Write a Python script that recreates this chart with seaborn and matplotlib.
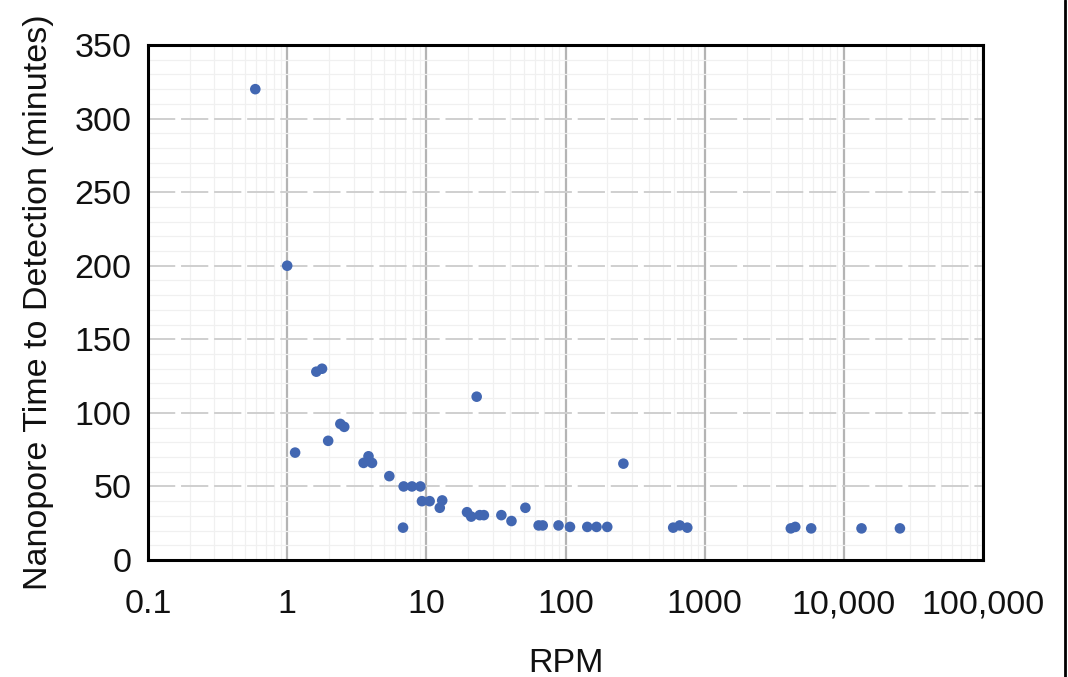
import numpy as np
import pandas as pd
import seaborn as sns
import matplotlib.pyplot as plt
from matplotlib.ticker import FixedLocator, FixedFormatter, MultipleLocator, LogLocator, NullFormatter
from matplotlib.lines import Line2D

# RPM vs time to detection
rpm = [0.59, 1.0, 1.14, 1.62, 1.78, 1.97, 2.41, 2.57, 3.54, 3.84, 4.07,
       5.42, 6.87, 7.88, 9.06, 6.8, 9.3, 10.56, 12.49, 13.0, 23.0,
       19.6, 21.0, 24.2, 25.9, 34.6, 40.9, 51.5, 64.1, 68.6, 89.1,
       107.7, 143.4, 167.1, 199.5, 260.6, 594, 662, 750,
       4160, 4477, 5826, 13400, 25300]
minutes = [320, 200, 73, 128, 130, 81, 92.5, 90.5, 66, 70.5, 66,
           57, 50, 50, 50, 22, 40, 40, 35.5, 40.5, 111,
           32.5, 29.5, 30.5, 30.5, 30.5, 26.5, 35.5, 23.5, 23.5, 23.5,
           22.5, 22.5, 22.5, 22.5, 65.5, 22, 23.5, 22,
           21.5, 22.5, 21.5, 21.5, 21.5]

x_ticks = [0.1, 1, 10, 100, 1000, 10000, 100000]
x_ticklabels = ['0.1', '1', '10', '100', '1000', '10,000', '100,000']
y_ticks = [0, 50, 100, 150, 200, 250, 300, 350]

df = pd.DataFrame({'RPM': rpm, 'Minutes': minutes})

sns.set_style('white')
plt.rcParams['font.family'] = ['Liberation Sans', 'DejaVu Sans']

fig = plt.figure(figsize=(10.68, 6.77), dpi=100)
ax = fig.add_axes([0.1386, 0.1728, 0.7818, 0.7607])

sns.scatterplot(data=df, x='RPM', y='Minutes', ax=ax, color='#4267B2',
                s=58, edgecolor='none', zorder=3)

ax.set_xscale('log')
ax.set_xlim(0.1, 100000)
ax.set_ylim(0, 350)

ax.xaxis.set_major_locator(FixedLocator(x_ticks))
ax.xaxis.set_major_formatter(FixedFormatter(x_ticklabels))
ax.xaxis.set_minor_locator(LogLocator(base=10, subs=np.arange(2, 10)))
ax.xaxis.set_minor_formatter(NullFormatter())
ax.set_yticks(y_ticks)
ax.yaxis.set_minor_locator(MultipleLocator(10))

# grid: decades darker, minor faint
ax.grid(which='minor', axis='both', color='#f0f0f0', linewidth=0.9, zorder=0)
ax.grid(which='major', axis='x', color='#b4b4b4', linewidth=1.6, zorder=1)
ax.grid(which='major', axis='y', color='#cfcfcf', linewidth=1.4,
        linestyle=(0, (14, 3)), zorder=1)
ax.set_axisbelow(True)

for side in ax.spines.values():
    side.set_color('black')
    side.set_linewidth(2.2)

ax.tick_params(axis='both', which='both', length=0, labelsize=24.5, labelcolor='#111111')
ax.tick_params(axis='x', pad=21)
ax.tick_params(axis='y', pad=12)

ax.set_xlabel('RPM', fontsize=24.5, labelpad=20, color='#111111')
ax.set_ylabel('Nanopore Time to Detection (minutes)', fontsize=24.5, labelpad=15,
              color='#111111')

# border line at right edge of the original picture
fig.add_artist(Line2D([0.9975, 0.9975], [0, 1], color='black', linewidth=2,
                      transform=fig.transFigure))

fig.savefig('out.png', dpi=100, facecolor='white')
